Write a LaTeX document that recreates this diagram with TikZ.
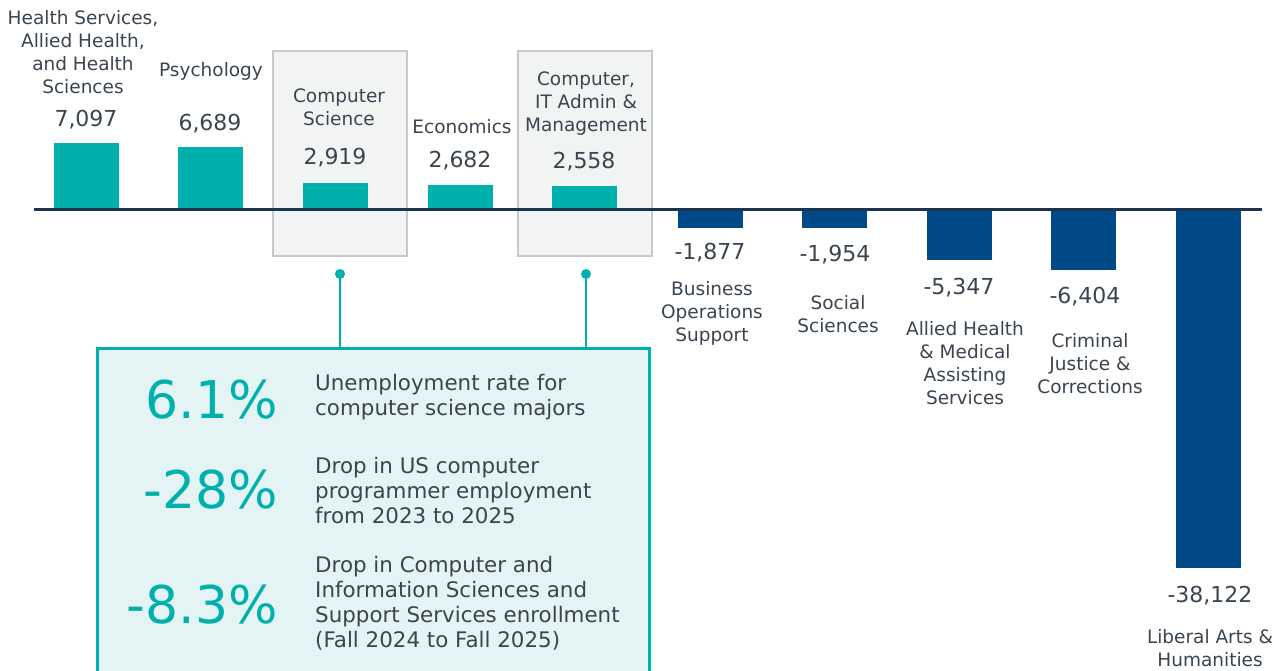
\documentclass[tikz,border=0pt]{standalone}
\usepackage{fontspec}
\setmainfont{DejaVu Sans}
\definecolor{tealbar}{HTML}{00B0AC}
\definecolor{navybar}{HTML}{004A87}
\definecolor{axisc}{HTML}{1B3550}
\definecolor{txt}{HTML}{3A4550}
\definecolor{hlfill}{HTML}{F2F3F3}
\definecolor{hldraw}{HTML}{C8CACA}
\definecolor{statfill}{HTML}{E4F3F3}
\begin{document}
\begin{tikzpicture}[x=1pt,y=-1pt,
  lab/.style={font=\fontsize{18.5}{23}\selectfont, text=txt, align=center, inner sep=0},
  val/.style={font=\fontsize{22}{26}\selectfont, text=txt, inner sep=0},
  big/.style={font=\fontsize{52}{56}\selectfont, text=tealbar, anchor=east, inner sep=0},
  desc/.style={font=\fontsize{21.4}{25}\selectfont, text=txt, align=left, anchor=west, inner sep=0},
  posbar/.style={fill=tealbar},
  negbar/.style={fill=navybar},
  hlbox/.style={draw=hldraw, fill=hlfill, line width=2pt, minimum width=134, minimum height=205, inner sep=0, anchor=north west},
  statbox/.style={draw=tealbar, fill=statfill, line width=2.5pt, minimum width=552, minimum height=360, inner sep=0, anchor=north west},
  leader/.style={draw=tealbar, line width=2.5pt},
  dotc/.style={fill=tealbar}
]
\useasboundingbox (0,0) rectangle (1274,671);
\fill[white] (0,0) rectangle (1274,671);

% highlight boxes
\node[hlbox] (hl1) at (272,50) {};
\node[hlbox] (hl2) at (517,50) {};

% bars (value in thousands, scale 9.4 px per thousand)
\fill[posbar] (53.5,210) rectangle (118.5,{210-7.097*9.4});
\fill[posbar] (178,210) rectangle (243,{210-6.689*9.4});
\fill[posbar] (302.5,210) rectangle (367.5,{210-2.919*9.4});
\fill[posbar] (427.5,210) rectangle (492.5,{210-2.682*9.4});
\fill[posbar] (551.5,210) rectangle (616.5,{210-2.558*9.4});
\fill[negbar] (677.5,210) rectangle (742.5,{210+1.877*9.4});
\fill[negbar] (801.5,210) rectangle (866.5,{210+1.954*9.4});
\fill[negbar] (926.5,210) rectangle (991.5,{210+5.347*9.4});
\fill[negbar] (1051,210) rectangle (1116,{210+6.404*9.4});
\fill[negbar] (1175.5,210) rectangle (1240.5,{210+38.122*9.4});

% axis
\coordinate (ax1) at (34,210);
\coordinate (ax2) at (1262,210);
\draw[axisc, line width=3pt] (ax1) -- (ax2);

% category labels and values
\node[lab] (l1) at (83,52) {Health Services,\\Allied Health,\\and Health\\Sciences};
\node[val] (v1) at (86,120) {7,097};
\node[lab] (l2) at (211,71) {Psychology};
\node[val] (v2) at (210,124) {6,689};
\node[lab] (l3) at (339,107) {Computer\\Science};
\node[val] (v3) at (335,158) {2,919};
\node[lab] (l4) at (462,127) {Economics};
\node[val] (v4) at (460,161) {2,682};
\node[lab] (l5) at (586,104) {Computer,\\IT Admin \&\\Management};
\node[val] (v5) at (584,162) {2,558};

\node[val] (v6) at (710,253) {-1,877};
\node[lab] (l6) at (712,313) {Business\\Operations\\Support};
\node[val] (v7) at (835,255) {-1,954};
\node[lab] (l7) at (838,314) {Social\\Sciences};
\node[val] (v8) at (959,288) {-5,347};
\node[lab] (l8) at (965,363) {Allied Health\\\& Medical\\Assisting\\Services};
\node[val] (v9) at (1085,297) {-6,404};
\node[lab] (l9) at (1090,364) {Criminal\\Justice \&\\Corrections};
\node[val] (v10) at (1210,596) {-38,122};
\node[lab] (l10) at (1210,648) {Liberal Arts \&\\Humanities};

% stats box
\node[statbox] (stats) at (96,347) {};
\coordinate (d1) at (340,274);
\coordinate (d2) at (586,274);
\draw[leader] (d1) -- (d1 |- stats.north);
\draw[leader] (d2) -- (d2 |- stats.north);
\fill[dotc] (d1) circle (5);
\fill[dotc] (d2) circle (5);

\node[big] (b1) at (278,400) {6.1\%};
\node[desc] (t1) at (315,397) {Unemployment rate for\\computer science majors};
\node[big] (b2) at (278,490) {-28\%};
\node[desc] (t2) at (315,491) {Drop in US computer\\programmer employment\\from 2023 to 2025};
\node[big] (b3) at (278,605) {-8.3\%};
\node[desc] (t3) at (315,603) {Drop in Computer and\\Information Sciences and\\Support Services enrollment\\(Fall 2024 to Fall 2025)};
\end{tikzpicture}
\end{document}
